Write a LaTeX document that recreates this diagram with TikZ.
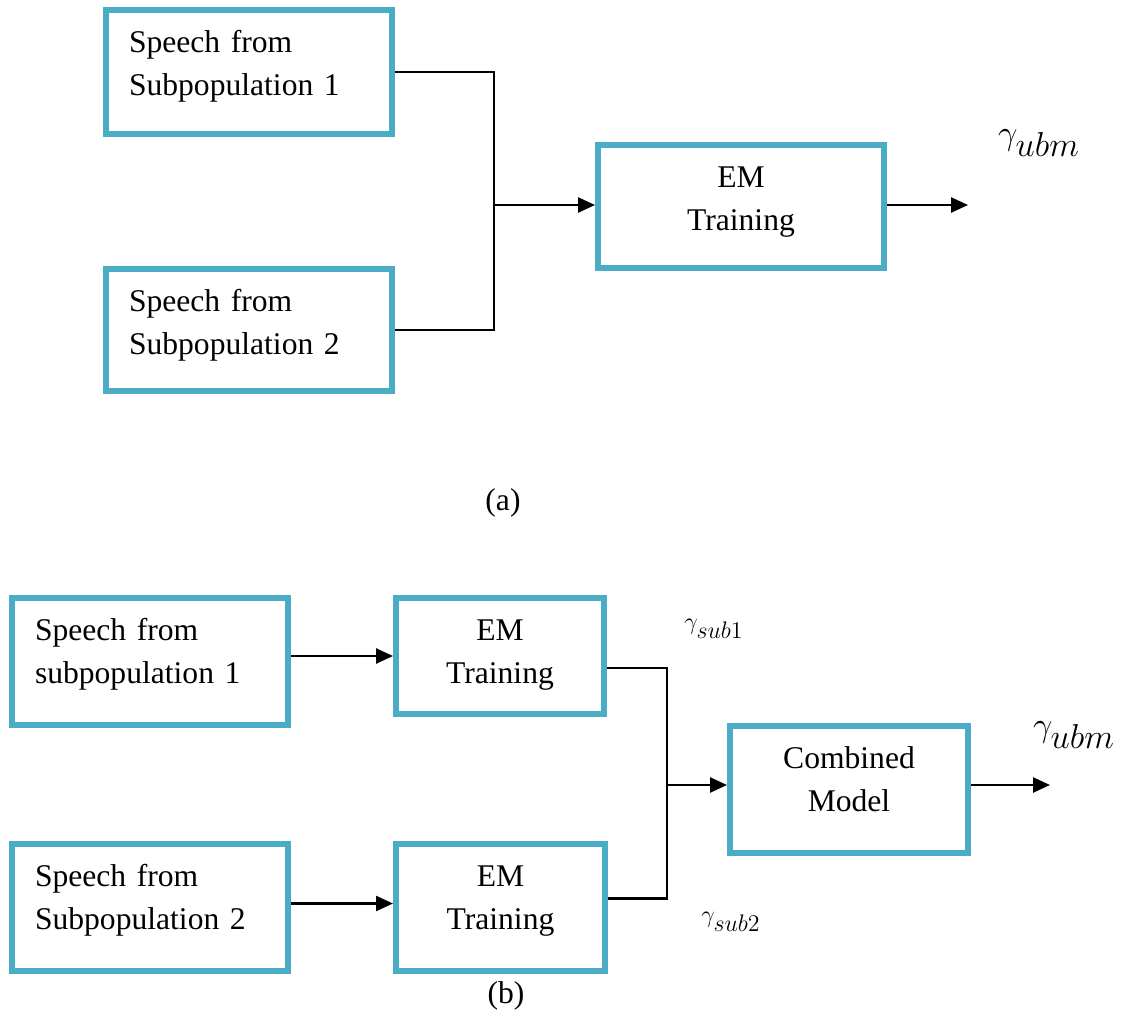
\documentclass[tikz,border=0pt]{standalone}
\usepackage{fontspec}
\setmainfont{Liberation Serif}
\usetikzlibrary{arrows.meta,calc}
\definecolor{frameblue}{HTML}{4BACC6}
\begin{document}
\begin{tikzpicture}[x=0.5pt,y=-0.5pt,
  box/.style={draw=frameblue,line width=3pt,fill=white,inner xsep=11.5pt,inner ysep=0pt,
    text height=21pt,font=\fontsize{15.8}{21.5}\selectfont},
  srcbox/.style={box,align=left},
  procbox/.style={box,align=center},
  wire/.style={line width=1.25pt,black},
  arr/.style={wire,-{Triangle[length=8.5pt,width=7.5pt]}},
  gamma/.style={font=\fontsize{16.5}{20}\selectfont,inner sep=0pt},
  gammasub/.style={font=\fontsize{12.5}{15}\selectfont,inner sep=0pt},
  caption/.style={font=\fontsize{15.8}{19}\selectfont,inner sep=0pt}]
\useasboundingbox (0,0) rectangle (1125,1012);

% ---------- (a) pooled training ----------
\node[srcbox,text width=120pt,text depth=41pt] (a1) at (249,72)
  {Speech from\\Subpopulation 1};
\node[srcbox,text width=120pt,text depth=40pt] (a2) at (249,330)
  {Speech from\\Subpopulation 2};
\node[procbox,text width=120pt,text depth=40.5pt] (emA) at (741,206.5)
  {EM\\Training};
\coordinate (jA) at (494,205);
\coordinate (outA) at (968,205);
\draw[wire] (a1.east) -| (jA);
\draw[wire] (a2.east) -| (jA);
\draw[arr] (jA) -- (jA -| emA.west);
\draw[arr] (outA -| emA.east) -- (outA);
\node[gamma] (gA) at (1039,143) {$\gamma_{\textstyle ubm}$};
\node[caption] (capA) at (503,503) {(a)};

% ---------- (b) separate training, then combination ----------
\node[srcbox,text width=115pt,text depth=42.5pt] (b1) at (150,661.5)
  {Speech from\\subpopulation 1};
\node[srcbox,text width=115pt,text depth=42.5pt] (b2) at (150,907.5)
  {Speech from\\Subpopulation 2};
\node[procbox,text width=81pt,text depth=37pt] (emB1) at (500,656)
  {EM\\Training};
\node[procbox,text width=81.5pt,text depth=42.5pt] (emB2) at (500.5,907.5)
  {EM\\Training};
\node[procbox,text width=96pt,text depth=42.5pt] (comb) at (849,789.5)
  {Combined\\Model};
\coordinate (jB) at (667,785);
\coordinate (outB) at (1050,785);
\draw[arr] (b1.east |- emB1.west) -- (emB1.west);
\draw[arr] ([yshift=2pt]b2.east) -- ([yshift=2pt]emB2.west);
\draw[wire] ([yshift=-6pt]emB1.east) -| (jB);
\draw[wire] ([yshift=4.5pt]emB2.east) -| (jB);
\draw[arr] (jB) -- (jB -| comb.west);
\draw[arr] (outB -| comb.east) -- (outB);
\node[gammasub] (gS1) at (714,629) {$\gamma_{\textstyle sub1}$};
\node[gammasub] (gS2) at (731,922) {$\gamma_{\textstyle sub2}$};
\node[gamma] (gB) at (1074,735) {$\gamma_{\textstyle ubm}$};
\node[caption] (capB) at (506,996) {(b)};
\end{tikzpicture}
\end{document}
